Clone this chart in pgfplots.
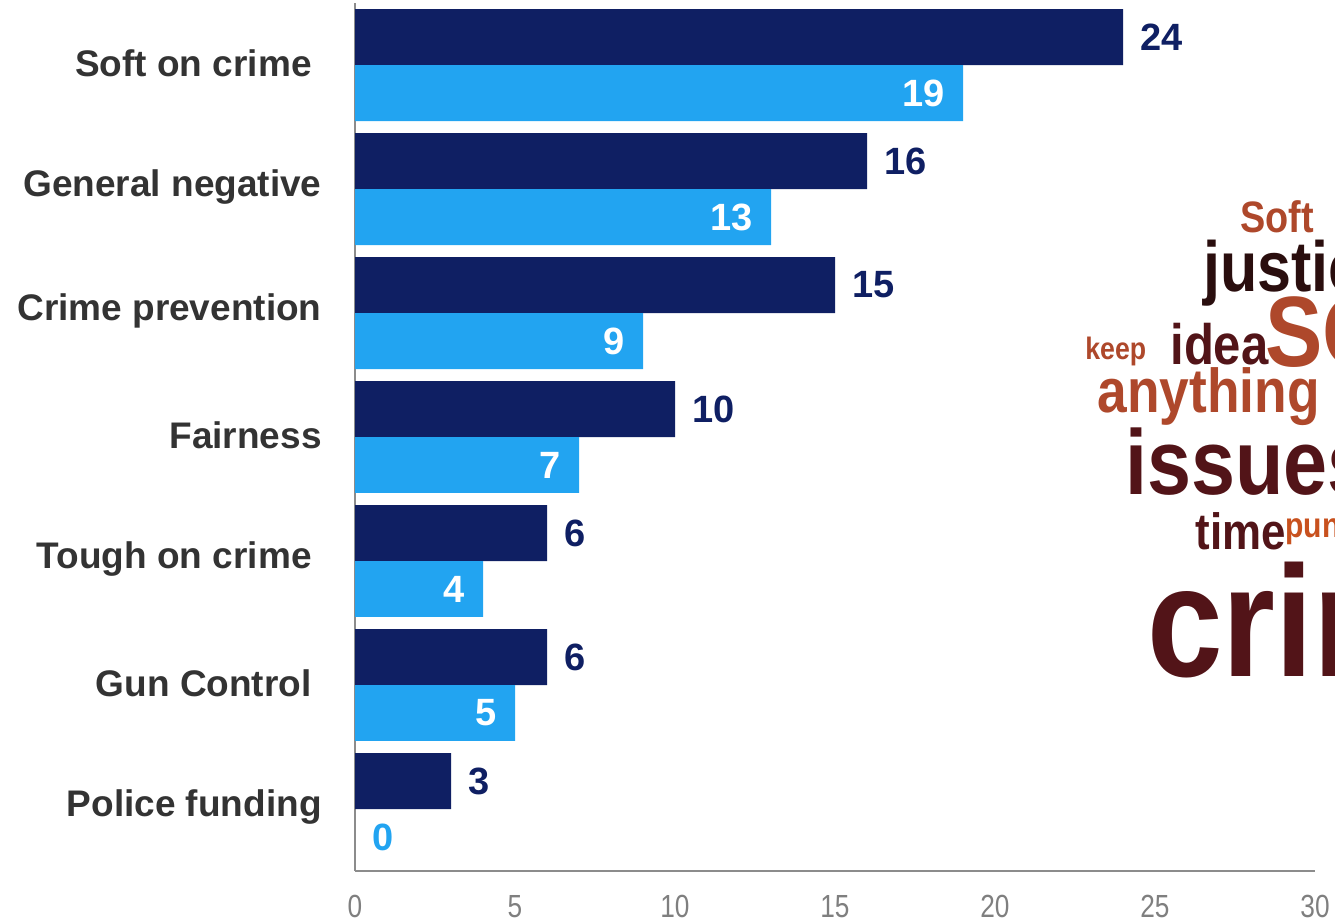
\documentclass[border=0pt]{standalone}
\usepackage{pgfplots}
\pgfplotsset{compat=1.18}
\usepackage{fontspec}
\setmainfont{Liberation Sans}
\newfontfamily\tickfont[FakeStretch=0.82]{Liberation Sans}
\newfontfamily\cloudfont[FakeStretch=0.86]{Liberation Sans}
\definecolor{navy}{HTML}{0F1F63}
\definecolor{lblue}{HTML}{22A4F1}
\definecolor{axgrey}{HTML}{8C8C8C}
\definecolor{labgrey}{HTML}{333333}
\definecolor{tickgrey}{HTML}{7F7F7F}
\definecolor{cOr}{HTML}{AE482B}
\definecolor{cOr2}{HTML}{C8511E}
\definecolor{cDk}{HTML}{2A0E0E}
\definecolor{cMa}{HTML}{521418}
\pgfplotsset{/pgf/number format/assume math mode=true}
\newcommand{\cw}[2]{\cloudfont\bfseries\fontsize{#1}{#1}\selectfont #2}
\begin{document}
\begin{tikzpicture}
\useasboundingbox (0,0) rectangle (667.5bp,461bp);
\begin{axis}[
  at={(177.5bp,25.5bp)}, anchor=south west,
  scale only axis, width=480bp, height=434bp,
  xbar, xmin=0, xmax=30, ymin=-0.5, ymax=6.5,
  bar width=0.4516,
  axis x line*=bottom, axis y line*=left,
  axis line style={draw=axgrey, line width=1bp},
  xtick={0,5,...,30}, ytick={0,...,6},
  yticklabels={Police funding, Gun Control\hspace*{5bp}, Tough on crime\hspace*{5bp}, Fairness, Crime prevention, General negative, Soft on crime\hspace*{5bp}},
  major tick length=0pt,
  xticklabel style={font=\tickfont\fontsize{16bp}{18bp}\selectfont, text=tickgrey, inner sep=0pt, anchor=north, yshift=-12bp},
  yticklabel style={font=\bfseries\fontsize{18.5bp}{22bp}\selectfont, text=labgrey, anchor=east, inner sep=0pt, xshift=-16.5bp, yshift=0.8bp},
  clip=false,
]
\addplot[draw=none, fill=navy, bar shift=0.2258,
  nodes near coords, nodes near coords style={anchor=west, inner sep=0pt, xshift=8.5bp, text=navy, font=\bfseries\fontsize{19bp}{22bp}\selectfont}]
  coordinates {(24,6) (16,5) (15,4) (10,3) (6,2) (6,1) (3,0)};
\addplot[draw=none, fill=lblue, bar shift=-0.2258,
  nodes near coords, nodes near coords style={anchor=east, inner sep=0pt, xshift=-9bp, text=white, font=\bfseries\fontsize{19bp}{22bp}\selectfont}]
  coordinates {(19,6) (13,5) (9,4) (7,3) (4,2) (5,1)};
\addplot[draw=none, fill=none, bar shift=-0.2258,
  nodes near coords, nodes near coords style={anchor=west, inner sep=0pt, xshift=8.5bp, text=lblue, font=\bfseries\fontsize{19bp}{22bp}\selectfont}]
  coordinates {(0,0)};
\end{axis}
\begin{scope}
\clip (0,0) rectangle (667.5bp,461bp);
\node[anchor=base west, inner sep=0pt, text=cOr] at (620bp,344.5bp) {\cw{22bp}{Soft}};
\node[anchor=base west, inner sep=0pt, text=cDk] at (601.5bp,315bp) {\cw{35.5bp}{justice}};
\node[anchor=base west, inner sep=0pt, text=cOr] at (632.5bp,277.5bp) {\cw{50bp}{SO}};
\node[anchor=base west, inner sep=0pt, text=cOr] at (542.5bp,281bp) {\cw{15.5bp}{keep}};
\node[anchor=base west, inner sep=0pt, text=cMa] at (585bp,278.5bp) {\cw{28.5bp}{idea}};
\node[anchor=base west, inner sep=0pt, text=cOr] at (548.5bp,254.5bp) {\cw{31bp}{anything}};
\node[anchor=base west, inner sep=0pt, text=cMa] at (562.5bp,213.5bp) {\cw{46bp}{issues}};
\node[anchor=base west, inner sep=0pt, text=cMa] at (597.5bp,186bp) {\cw{25.5bp}{time}};
\node[anchor=base west, inner sep=0pt, text=cOr2] at (642.5bp,192bp) {\cw{17.5bp}{punishment}};
\node[anchor=base west, inner sep=0pt, text=cMa] at (573.5bp,122.5bp) {\cw{79bp}{crime}};
\end{scope}
\end{tikzpicture}
\end{document}
